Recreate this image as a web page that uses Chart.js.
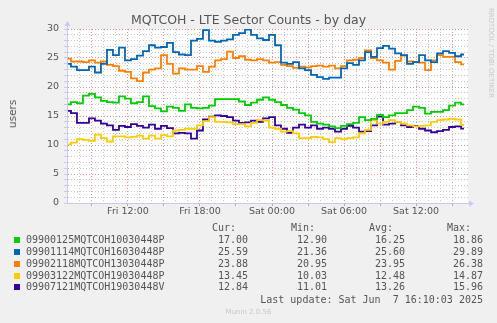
<!DOCTYPE html>
<html>
<head>
<meta charset="utf-8">
<script src="https://cdn.jsdelivr.net/npm/chart.js@4.4.1/dist/chart.umd.min.js"></script>
<style>
    body { margin: 0; background: #f0f0f0; }
    #wrap { position: relative; width: 497px; height: 323px; overflow: hidden; font-family: "DejaVu Sans", sans-serif; }
    #chart { position: absolute; left: 0; top: 0; }
    .t { position: absolute; white-space: pre; }
    #title { left: 0; width: 497px; top: 12px; text-align: center; font-size: 12.5px; line-height: 16px; color: #555; }
    #users { left: 12px; top: 114px; font-size: 10.5px; color: #555; transform: translate(-50%, -50%) rotate(-90deg); }
    #rrd { left: 491px; top: 53px; font-size: 7px; color: #c8c8c8; transform: translate(-50%, -50%) rotate(90deg); }
    .mono { font-family: "DejaVu Sans Mono", monospace; font-size: 10px; line-height: 12px; color: #555; }
    .num { width: 60px; text-align: right; }
    .sq { position: absolute; width: 6px; height: 6px; }
    #munin { left: 0; width: 497px; top: 307px; text-align: center; font-size: 7px; line-height: 10px; color: #c8c8c8; }
</style>
</head>
<body>
<div id="wrap">
    <canvas id="chart" width="497" height="323"></canvas>
    <div class="t" id="title">MQTCOH - LTE Sector Counts - by day</div>
    <div class="t" id="users">users</div>
    <div class="t" id="rrd">RRDTOOL / TOBI OETIKER</div>
    <div id="legend"></div>
    <div class="t mono" style="left:0;width:483px;text-align:right;top:294px">Last update: Sat Jun  7 16:10:03 2025</div>
    <div class="t" id="munin">Munin 2.0.56</div>
</div>
<script>
// tijden: uren sinds vrijdag 00:00
const hours = [7, 7.5, 8, 8.5, 9, 9.5, 10, 10.5, 11, 11.5, 12, 12.5, 13, 13.5, 14, 14.5, 15, 15.5, 16, 16.5,
    17, 17.5, 18, 18.5, 19, 19.5, 20, 20.5, 21, 21.5, 22, 22.5, 23, 23.5, 24, 24.5, 25, 25.5, 26, 26.5,
    27, 27.5, 28, 28.5, 29, 29.5, 30, 30.5, 31, 31.5, 32, 32.5, 33, 33.5, 34, 34.5, 35, 35.5, 36, 36.5,
    37, 37.5, 38, 38.5, 39, 39.5, 40];

const green = [17.0, 17.4, 17.2, 18.5, 18.8, 18.2, 17.6, 17.4, 17.3, 18.4, 18.0, 17.2, 17.4, 18.4, 16.7, 16.3, 15.8, 16.6, 16.4, 15.9,
    17.0, 16.4, 16.3, 16.4, 16.8, 17.9, 17.9, 17.9, 17.9, 17.5, 16.9, 17.3, 17.8, 18.2, 17.8, 17.4, 16.9, 16.4, 16.1, 15.5,
    15.1, 14.0, 13.7, 13.5, 13.2, 12.9, 13.3, 13.6, 13.8, 14.8, 14.3, 14.5, 15.2, 14.8, 15.1, 15.5, 15.5, 16.0, 16.6, 16.4,
    15.4, 15.7, 15.7, 16.0, 16.8, 17.3, 17.0];

const blue = [24.0, 23.5, 22.9, 22.9, 23.5, 22.5, 24.0, 26.4, 25.5, 26.8, 24.6, 24.8, 25.4, 26.2, 27.2, 26.8, 26.9, 27.6, 26.0, 25.6,
    25.5, 28.0, 28.3, 29.8, 28.0, 27.8, 28.0, 28.2, 29.0, 29.3, 29.9, 29.0, 28.4, 28.1, 29.0, 27.2, 24.2, 24.0, 24.3, 23.2,
    22.9, 22.1, 21.7, 21.4, 21.6, 21.6, 23.2, 24.1, 23.8, 24.6, 26.0, 25.2, 26.7, 27.1, 26.6, 25.8, 25.5, 24.0, 24.3, 25.5,
    24.6, 24.3, 25.8, 26.2, 25.9, 25.3, 25.6];

const orange = [24.9, 24.4, 24.4, 24.3, 24.6, 24.2, 24.4, 23.8, 23.6, 22.8, 22.6, 21.5, 21.0, 22.5, 23.0, 23.2, 25.5, 24.0, 22.3, 23.2,
    23.0, 23.0, 23.6, 22.6, 23.5, 24.6, 24.8, 26.1, 25.0, 25.3, 24.7, 24.6, 24.8, 24.6, 24.2, 24.3, 23.8, 23.6, 23.3, 23.5,
    23.4, 23.6, 23.7, 23.5, 23.7, 23.2, 23.6, 24.6, 24.7, 25.0, 26.3, 25.0, 24.6, 24.2, 23.0, 24.5, 25.4, 24.4, 24.3, 24.2,
    22.9, 24.6, 25.5, 25.2, 25.2, 24.3, 23.9];

const yellow = [10.1, 10.4, 11.0, 10.9, 10.7, 11.8, 11.2, 10.6, 11.5, 11.5, 11.3, 11.4, 11.6, 11.1, 11.6, 11.1, 11.7, 11.5, 12.5, 12.6,
    12.8, 12.8, 13.4, 14.1, 14.8, 14.0, 14.0, 13.9, 13.6, 13.6, 13.2, 13.8, 14.3, 14.2, 13.0, 12.8, 12.3, 12.4, 12.0, 11.2,
    11.2, 11.4, 11.3, 11.0, 10.5, 11.2, 11.0, 11.2, 11.3, 12.0, 12.6, 14.3, 13.7, 14.0, 14.3, 14.0, 13.7, 13.4, 13.2, 13.3,
    13.4, 14.0, 14.3, 14.4, 14.5, 14.4, 13.45];

const purple = [15.9, 15.5, 13.8, 13.8, 14.6, 14.2, 13.7, 13.4, 12.6, 13.3, 13.1, 13.6, 13.3, 13.0, 13.5, 12.8, 13.3, 12.9, 12.0, 12.1,
    12.0, 11.1, 12.5, 14.4, 14.9, 15.1, 15.0, 14.8, 14.2, 13.8, 13.9, 14.2, 14.0, 14.6, 14.8, 13.4, 12.8, 12.1, 13.0, 13.5,
    13.0, 13.4, 12.8, 13.0, 12.8, 12.3, 12.8, 13.3, 13.0, 12.3, 12.4, 13.4, 14.9, 13.5, 13.7, 14.0, 13.4, 13.1, 13.3, 12.8,
    12.5, 12.2, 12.4, 12.6, 13.1, 13.2, 12.84];

const names = ['09900125MQTCOH10030448P', '09901114MQTCOH16030448P', '09902118MQTCOH13030448P', '09903122MQTCOH19030448P', '09907121MQTCOH19030448V'];
const colors = ['#00CC00', '#0066B3', '#FF8000', '#FFCC00', '#330099'];
const curVals = ['17.00', '25.59', '23.88', '13.45', '12.84'];
const minVals = ['12.90', '21.36', '20.95', '10.03', '11.01'];
const avgVals = ['16.25', '25.60', '23.95', '12.48', '13.26'];
const maxVals = ['18.86', '29.89', '26.38', '14.87', '15.96'];

const series = [green, blue, orange, yellow, purple];

// 1. LEGENDA (HTML tekst)
function bouwLegenda() {
    const leg = document.getElementById('legend');
    let html = '';
    const heads = [['Cur:', 212], ['Min:', 291], ['Avg:', 369], ['Max:', 447]];
    heads.forEach(h => {
        html += '<div class="t mono" style="left:' + h[1] + 'px;top:222px">' + h[0] + '</div>';
    });
    const rights = [248, 327, 405, 483];
    names.forEach((n, i) => {
        const y = 240 + i * 11.85;
        html += '<div class="sq" style="left:14px;top:' + (y - 3) + 'px;background:' + colors[i] + '"></div>';
        html += '<div class="t mono" style="left:26px;top:' + (y - 6) + 'px">' + n + '</div>';
        [curVals, minVals, avgVals, maxVals].forEach((col, j) => {
            html += '<div class="t mono num" style="left:' + (rights[j] - 60) + 'px;top:' + (y - 6) + 'px">' + col[i] + '</div>';
        });
    });
    leg.innerHTML = html;
}
bouwLegenda();

// 2. GRAFIEK
const red = 'rgba(226,150,150,1)';
const gray = 'rgba(200,200,200,1)';
const isInt = v => Math.abs(v - Math.round(v)) < 1e-6;

const bgPlugin = {
    id: 'bg',
    beforeDraw(chart) {
        const a = chart.chartArea, ctx = chart.ctx;
        ctx.save();
        ctx.fillStyle = '#ffffff';
        ctx.fillRect(a.left, a.top, a.right - a.left, a.bottom - a.top);
        ctx.restore();
    }
};

const arrowPlugin = {
    id: 'arrows',
    afterDraw(chart) {
        const a = chart.chartArea, ctx = chart.ctx;
        ctx.save();
        ctx.strokeStyle = '#c8c8f0';
        ctx.fillStyle = '#c8c8f0';
        ctx.lineWidth = 1;
        ctx.beginPath();
        ctx.moveTo(a.left + 0.5, a.top);
        ctx.lineTo(a.left + 0.5, a.top - 4);
        ctx.moveTo(a.right, a.bottom + 0.5);
        ctx.lineTo(a.right + 2, a.bottom + 0.5);
        ctx.stroke();
        ctx.beginPath();
        ctx.moveTo(a.left - 2.5, a.top - 3);
        ctx.lineTo(a.left + 3.5, a.top - 3);
        ctx.lineTo(a.left + 0.5, a.top - 8);
        ctx.closePath();
        ctx.fill();
        ctx.beginPath();
        ctx.moveTo(a.right + 1, a.bottom - 2.5);
        ctx.lineTo(a.right + 1, a.bottom + 3.5);
        ctx.lineTo(a.right + 6, a.bottom + 0.5);
        ctx.closePath();
        ctx.fill();
        ctx.restore();
    }
};

const tickFont = { family: 'DejaVu Sans', size: 9.5 };

new Chart(document.getElementById('chart'), {
    type: 'line',
    data: {
        datasets: series.map((s, i) => ({
            data: s.map((v, j) => ({ x: hours[j], y: v })),
            borderColor: colors[i],
            borderWidth: 1.8,
            pointRadius: 0,
            stepped: 'middle',
            fill: false,
            order: i
        }))
    },
    options: {
        responsive: false,
        animation: false,
        layout: { padding: { left: 0, top: 29, right: 29, bottom: 103 } },
        plugins: { legend: { display: false }, tooltip: { enabled: false } },
        scales: {
            x: {
                type: 'linear',
                min: 6.92,
                max: 40.33,
                afterFit: s => { s.height = 17; },
                ticks: {
                    stepSize: 1,
                    maxTicksLimit: 200,
                    autoSkip: false,
                    maxRotation: 0,
                    padding: 0,
                    color: '#555',
                    font: tickFont,
                    callback: v => {
                        if (!isInt(v) || Math.round(v) % 6 !== 0) return '';
                        const h = Math.round(v);
                        const dag = h < 24 ? 'Fri' : 'Sat';
                        const hh = String(h % 24).padStart(2, '0');
                        return dag + ' ' + hh + ':00';
                    }
                },
                grid: {
                    color: ctx => !isInt(ctx.tick.value) ? 'transparent' : (Math.round(ctx.tick.value) % 3 === 0 ? red : gray),
                    tickColor: ctx => isInt(ctx.tick.value) && Math.round(ctx.tick.value) % 3 === 0 ? red : 'transparent',
                    tickLength: 3,
                    lineWidth: 1
                },
                border: { display: true, color: '#c8c8f0', width: 1, dash: [1, 2] }
            },
            y: {
                min: 0,
                max: 30,
                afterFit: s => { s.width = 67; },
                ticks: {
                    stepSize: 1,
                    autoSkip: false,
                    padding: 5,
                    color: '#555',
                    font: tickFont,
                    callback: v => (v % 5 === 0 ? v : '')
                },
                grid: {
                    color: ctx => (ctx.tick.value % 5 === 0 ? red : gray),
                    tickColor: '#c8c8f0',
                    tickLength: 3,
                    lineWidth: 1
                },
                border: { display: true, color: '#c8c8f0', width: 1, dash: [1, 2] }
            }
        }
    },
    plugins: [bgPlugin, arrowPlugin]
});
</script>
</body>
</html>
